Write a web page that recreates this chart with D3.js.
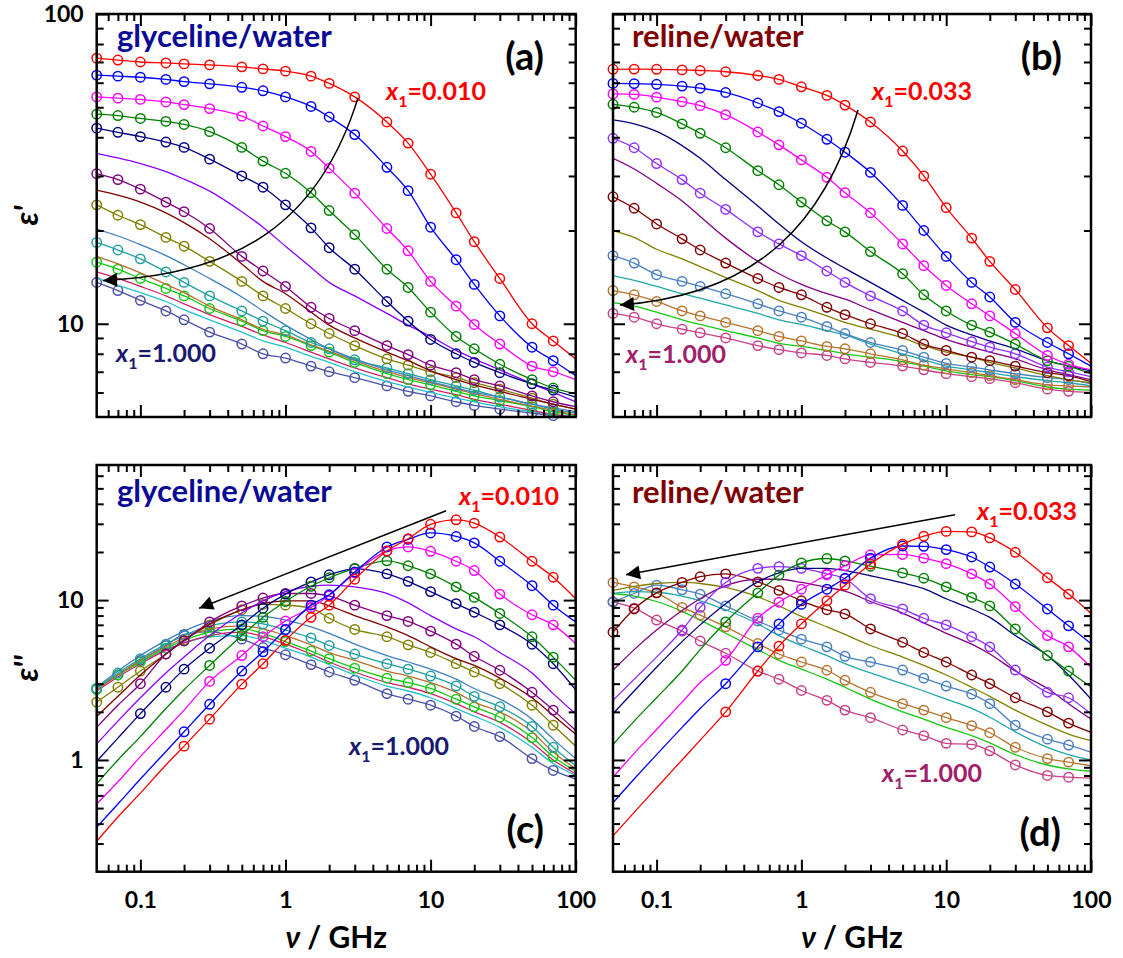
<!DOCTYPE html>
<html>
<head>
<meta charset="utf-8">
<script src="https://cdn.jsdelivr.net/npm/d3@7"></script>
<style>
  body { margin: 0; background: #fff; }
  text { font-family: Lato, "Open Sans", sans-serif; font-weight: bold; }
</style>
</head>
<body>
<script>
const W = 1123, H = 958;

// frequency grid (GHz) shared by every series
const freqs = [0.05, 0.07, 0.1, 0.15, 0.2, 0.3, 0.5, 0.7, 1, 1.5, 2, 3, 5, 7, 10, 15, 20, 30, 50, 70, 100];

const xTicks = [0.1, 1, 10, 100];
const xTickLabels = ['0.1', '1', '10', '100'];
const epsRealTicks = [10, 100];
const epsRealTickLabels = ['10', '100'];
const epsImagTicks = [1, 10];
const epsImagTickLabels = ['1', '10'];

// glyceline/water, x1 = 0.010 ... 1.000
const glyColors = ['#ff0000', '#0000ff', '#ff00ff', '#008000', '#000080', '#8b00ff', '#800080', '#800000',
                   '#808000', '#3f7fbf', '#20a0a0', '#b86e2e', '#14c814', '#d0206a', '#22c0d0', '#4a52a8'];
const glyMarked = [true, true, true, true, true, false, true, false, true, false, true, false, true, false, false, true];

const glyEps1 = [
  [72, 71, 70, 69.5, 69, 68.5, 67.5, 66.5, 65.4, 63, 59.7, 54, 44.8, 38.3, 30.4, 22.8, 18.4, 14.0, 10.0, 8.8, 7.7],
  [63.5, 63, 62.5, 61.5, 60.5, 59.5, 58, 56.5, 54, 50.3, 46.5, 40.8, 32, 26.9, 20.5, 16.1, 13.4, 10.6, 8.4, 7.6, 6.8],
  [54, 53.5, 53, 52, 51, 49.5, 46.8, 43.5, 40.2, 36, 31.8, 26.4, 20.3, 17.2, 13.7, 11.4, 9.95, 8.6, 7.3, 7.0, 6.6],
  [47.5, 47, 46, 45, 44, 41.7, 37.1, 33.5, 30.6, 26.5, 23.2, 19.4, 15.0, 13.1, 10.9, 9.1, 8.3, 7.4, 6.6, 6.2, 5.95],
  [42.8, 41.5, 40.2, 38.6, 37.1, 34.0, 30.0, 27.6, 24.2, 20.4, 17.6, 15.0, 11.8, 10.2, 8.9, 8.0, 7.5, 6.95, 6.4, 6.1, 5.8],
  [35.5, 34.3, 32.9, 31, 29.3, 26.8, 23, 20.5, 17.8, 15.2, 13.6, 12.3, 10.8, 9.9, 9.1, 8.2, 7.7, 7.1, 6.4, 6.0, 5.6],
  [30.5, 29.2, 27.2, 24.7, 23.0, 20.3, 16.5, 14.8, 13.2, 11.3, 10.4, 9.5, 8.5, 7.95, 7.35, 6.95, 6.6, 6.3, 5.85, 5.6, 5.4],
  [27, 26, 24.7, 22.8, 21.2, 18.8, 15.6, 13.7, 12.5, 10.9, 9.9, 9.0, 8.1, 7.6, 7.05, 6.6, 6.35, 6.05, 5.7, 5.5, 5.3],
  [24.2, 22.4, 20.9, 19.0, 17.8, 15.9, 13.7, 12.3, 11.2, 10.0, 9.3, 8.5, 7.7, 7.35, 7.0, 6.7, 6.45, 6.15, 5.75, 5.5, 5.3],
  [20.2, 19.2, 18.0, 16.6, 15.5, 14.0, 12.2, 11.0, 9.9, 8.9, 8.3, 7.7, 7.1, 6.8, 6.5, 6.2, 6.0, 5.8, 5.5, 5.35, 5.2],
  [18.3, 17.3, 16.2, 14.7, 13.6, 12.3, 11.0, 10.2, 9.5, 8.7, 8.3, 7.65, 7.2, 6.9, 6.6, 6.3, 6.1, 5.8, 5.5, 5.3, 5.15],
  [16.5, 15.6, 14.6, 13.4, 12.6, 11.4, 10.3, 9.6, 9.2, 8.55, 8.15, 7.6, 7.0, 6.7, 6.45, 6.15, 5.95, 5.7, 5.42, 5.25, 5.08],
  [15.8, 15.0, 14.0, 13.0, 12.3, 11.2, 10.2, 9.5, 9.1, 8.5, 8.1, 7.5, 6.9, 6.6, 6.35, 6.05, 5.85, 5.65, 5.4, 5.2, 5.05],
  [14.7, 14.0, 13.2, 12.3, 11.6, 10.7, 9.8, 9.2, 8.7, 8.1, 7.7, 7.2, 6.7, 6.4, 6.15, 5.9, 5.7, 5.5, 5.25, 5.1, 5.0],
  [14.0, 13.3, 12.6, 11.8, 11.1, 10.3, 9.4, 8.8, 8.4, 7.85, 7.5, 7.0, 6.5, 6.25, 6.0, 5.75, 5.6, 5.4, 5.2, 5.1, 5.0],
  [13.6, 12.8, 11.9, 11.0, 10.3, 9.4, 8.6, 8.0, 7.75, 7.3, 7.0, 6.7, 6.3, 6.05, 5.85, 5.6, 5.45, 5.3, 5.15, 5.05, 5.0]
];

const glyEps2 = [
  [0.31, 0.44, 0.62, 0.93, 1.22, 1.8, 2.98, 4.0, 5.6, 7.8, 9.3, 13.5, 20.3, 24.2, 29.8, 31.8, 30.3, 24.8, 17.5, 13.9, 10.2],
  [0.38, 0.53, 0.76, 1.13, 1.5, 2.23, 3.6, 4.75, 6.55, 9.3, 10.8, 15.0, 21.5, 24.0, 26.3, 25.0, 22.8, 17.5, 12.3, 9.3, 7.3],
  [0.53, 0.73, 1.05, 1.55, 2.05, 3.1, 4.5, 5.9, 7.4, 9.0, 10.7, 14.8, 20.3, 21.5, 20.2, 17.5, 15.3, 10.9, 8.1, 7.0, 5.35],
  [0.71, 1.0, 1.4, 2.1, 2.75, 3.9, 6.0, 7.8, 9.8, 12.2, 13.8, 15.8, 17.6, 16.4, 14.6, 12.1, 10.4, 8.25, 5.9, 4.4, 3.15],
  [0.98, 1.37, 1.95, 2.85, 3.7, 5.0, 7.0, 8.9, 10.9, 13.0, 14.4, 15.7, 14.6, 13.1, 11.3, 9.5, 8.4, 7.0, 5.3, 4.0, 2.75],
  [1.26, 1.75, 2.45, 3.5, 4.4, 6.0, 8.3, 9.9, 11.3, 12.2, 12.4, 12.1, 11.0, 9.6, 8.0, 6.6, 5.9, 4.7, 3.5, 2.6, 1.94],
  [1.6, 2.2, 3.0, 4.6, 5.55, 7.3, 9.2, 10.3, 11.0, 11.0, 10.6, 9.3, 8.0, 7.35, 6.4, 5.3, 4.45, 3.64, 2.65, 2.05, 1.53],
  [1.87, 2.5, 3.4, 4.6, 5.6, 7.1, 8.7, 9.5, 9.9, 9.9, 9.2, 8.0, 6.8, 6.0, 5.1, 4.3, 3.9, 3.25, 2.45, 1.9, 1.45],
  [2.3, 2.85, 3.6, 4.6, 5.6, 7.0, 8.7, 9.4, 9.3, 8.9, 7.7, 6.55, 5.9, 5.25, 4.7, 4.0, 3.55, 3.0, 2.2, 1.65, 1.22],
  [2.85, 3.6, 4.5, 5.6, 6.4, 7.4, 8.0, 7.9, 7.5, 6.8, 6.2, 5.3, 4.5, 4.1, 3.7, 3.2, 2.8, 2.4, 1.8, 1.35, 1.02],
  [2.8, 3.5, 4.3, 5.3, 6.0, 6.9, 7.3, 7.1, 6.5, 5.8, 5.2, 4.6, 4.0, 3.7, 3.35, 2.9, 2.5, 2.15, 1.62, 1.2, 0.92],
  [2.75, 3.4, 4.2, 5.1, 5.8, 6.6, 6.9, 6.6, 6.0, 5.25, 4.7, 4.2, 3.6, 3.35, 3.05, 2.65, 2.3, 2.0, 1.5, 1.12, 0.88],
  [2.75, 3.4, 4.1, 5.0, 5.6, 6.3, 6.6, 6.2, 5.5, 4.8, 4.3, 3.75, 3.25, 3.05, 2.8, 2.4, 2.15, 1.85, 1.38, 1.05, 0.85],
  [2.7, 3.3, 4.0, 4.85, 5.4, 6.0, 6.3, 5.9, 5.3, 4.6, 4.1, 3.55, 3.05, 2.85, 2.6, 2.25, 2.0, 1.72, 1.28, 1.0, 0.82],
  [2.8, 3.4, 4.1, 4.9, 5.4, 5.9, 6.0, 5.6, 5.0, 4.4, 3.95, 3.4, 2.9, 2.7, 2.45, 2.1, 1.88, 1.6, 1.2, 0.95, 0.8],
  [2.8, 3.4, 4.2, 5.2, 6.1, 6.35, 5.7, 5.05, 4.55, 3.95, 3.55, 3.15, 2.6, 2.4, 2.2, 1.88, 1.62, 1.4, 1.02, 0.86, 0.76]
];
// first measured point (index in freqs) of each loss series
const glyEps2MarkFrom = [4, 4, 5, 5, 2, 0, 2, 0, 0, 0, 0, 0, 0, 0, 0, 0];

// reline/water, x1 = 0.033 ... 1.000
const relColors = ['#ff0000', '#0000ff', '#ff00ff', '#008000', '#000080', '#9030ff', '#800080',
                   '#800000', '#808000', '#4a80c0', '#20a8a8', '#b8732e', '#14c814', '#c8408a'];
const relMarked = [true, true, true, true, false, true, false, true, false, true, false, true, false, true];

const relEps1 = [
  [66.3, 66.4, 66.3, 66.0, 65.7, 65.1, 63.3, 61.5, 58.2, 54.6, 50.8, 44.8, 36.1, 30.0, 23.7, 18.9, 15.9, 12.9, 9.7, 8.5, 7.45],
  [59.7, 59.6, 59.3, 58.5, 57.6, 55.8, 51.6, 48.4, 44.4, 39.4, 35.8, 30.8, 24.1, 20.0, 16.5, 13.6, 12.2, 10.1, 8.7, 8.0, 7.3],
  [55.2, 55.0, 53.9, 52.1, 50.6, 47.3, 41.6, 37.8, 33.8, 29.7, 26.5, 22.8, 18.1, 15.4, 13.3, 11.6, 10.6, 9.3, 7.9, 7.4, 7.1],
  [51.1, 50.0, 48.1, 44.2, 41.2, 37.0, 31.2, 28.1, 24.7, 21.5, 19.8, 17.1, 14.5, 12.4, 11.0, 9.9, 9.4, 8.6, 7.6, 7.3, 6.9],
  [45.5, 44.2, 41.8, 37.6, 34.2, 29.2, 24.0, 21.0, 18.4, 16.3, 15.1, 13.6, 11.9, 10.9, 9.9, 9.2, 8.8, 8.3, 7.6, 7.3, 7.05],
  [39.7, 37.0, 32.9, 29.2, 26.4, 23.4, 19.8, 18.1, 16.6, 14.8, 13.6, 12.3, 11.0, 9.9, 9.35, 8.75, 8.4, 8.0, 7.25, 7.0, 6.75],
  [34.2, 31.6, 28.4, 24.9, 22.2, 18.9, 15.9, 14.5, 13.4, 12.5, 12.0, 11.1, 10.1, 9.5, 8.9, 8.4, 8.1, 7.7, 7.1, 6.85, 6.6],
  [25.7, 23.6, 21.0, 18.8, 17.3, 15.7, 14.0, 13.1, 12.4, 11.3, 10.7, 10.0, 9.3, 8.6, 8.2, 7.8, 7.6, 7.3, 6.95, 6.8, 6.5],
  [20.0, 19.0, 17.4, 16.2, 15.3, 14.1, 12.8, 11.9, 11.3, 10.6, 10.1, 9.6, 9.0, 8.5, 8.1, 7.8, 7.5, 7.2, 6.8, 6.6, 6.45],
  [16.6, 15.7, 14.4, 13.7, 13.2, 12.5, 11.6, 11.0, 10.5, 9.8, 9.3, 8.7, 8.2, 7.8, 7.45, 7.25, 7.1, 6.9, 6.7, 6.6, 6.4],
  [14.3, 13.8, 13.2, 12.5, 12.1, 11.5, 10.8, 10.3, 9.95, 9.5, 9.2, 8.6, 8.0, 7.65, 7.3, 7.1, 6.95, 6.75, 6.55, 6.45, 6.3],
  [12.8, 12.4, 11.8, 11.0, 10.6, 10.1, 9.5, 9.1, 8.8, 8.45, 8.3, 8.0, 7.65, 7.35, 7.15, 6.95, 6.8, 6.6, 6.35, 6.3, 6.25],
  [11.7, 11.4, 10.9, 10.3, 9.95, 9.5, 9.0, 8.65, 8.45, 8.2, 8.0, 7.8, 7.55, 7.3, 7.05, 6.85, 6.75, 6.55, 6.25, 6.15, 6.1],
  [10.8, 10.5, 10.0, 9.6, 9.35, 9.0, 8.5, 8.25, 8.05, 7.9, 7.7, 7.5, 7.3, 7.1, 6.9, 6.75, 6.65, 6.45, 6.15, 6.05, 6.0]
];

const relEps2 = [
  [0.335, 0.47, 0.67, 1.0, 1.33, 2.0, 3.6, 5.15, 7.1, 9.9, 12.4, 16.8, 22.4, 25.1, 26.9, 26.7, 24.5, 19.9, 13.8, 10.9, 8.25],
  [0.54, 0.76, 1.08, 1.6, 2.1, 3.0, 5.1, 7.1, 9.4, 11.7, 13.7, 18.3, 21.8, 21.7, 20.7, 18.6, 16.1, 12.6, 8.8, 6.9, 5.35],
  [0.78, 1.1, 1.55, 2.3, 3.05, 4.2, 7.7, 9.7, 11.7, 14.4, 16.4, 19.2, 19.3, 18.3, 16.9, 14.6, 12.6, 9.1, 6.0, 5.1, 3.8],
  [1.25, 1.75, 2.45, 3.6, 4.9, 7.3, 11.1, 14.3, 17.1, 18.2, 17.6, 16.3, 14.8, 13.7, 12.1, 10.4, 9.2, 6.6, 4.5, 3.6, 2.86],
  [1.95, 2.7, 3.8, 5.5, 7.0, 9.5, 13.0, 14.8, 15.8, 15.8, 15.3, 14.2, 12.8, 11.8, 10.2, 8.8, 7.8, 6.0, 4.5, 3.4, 2.4],
  [2.36, 3.2, 4.4, 6.5, 9.0, 12.9, 15.8, 16.2, 15.8, 14.6, 13.6, 10.2, 8.8, 7.7, 7.0, 5.9, 5.1, 3.65, 2.65, 2.45, 1.94],
  [3.64, 4.9, 6.5, 8.6, 10.2, 12.3, 13.5, 13.5, 12.9, 12.0, 11.4, 9.8, 8.3, 7.2, 6.2, 5.3, 4.6, 3.6, 2.8, 2.25, 1.8],
  [6.3, 8.8, 11.1, 12.9, 14.0, 14.6, 13.0, 11.5, 9.9, 8.7, 8.2, 6.6, 5.45, 4.7, 4.1, 3.4, 3.0, 2.45, 2.0, 1.7, 1.49],
  [11.5, 12.2, 12.7, 12.9, 12.7, 12.0, 10.5, 9.2, 7.9, 6.8, 6.1, 5.2, 4.4, 3.9, 3.4, 2.85, 2.5, 2.05, 1.65, 1.45, 1.32],
  [9.75, 11.0, 12.4, 11.6, 10.9, 9.2, 7.4, 6.5, 5.7, 5.1, 4.45, 4.1, 3.65, 3.25, 2.9, 2.58, 2.25, 1.65, 1.35, 1.24, 1.12],
  [11.0, 11.3, 11.2, 10.6, 9.9, 8.7, 7.1, 6.0, 5.2, 4.5, 4.0, 3.5, 3.0, 2.7, 2.4, 2.1, 1.85, 1.5, 1.2, 1.08, 1.0],
  [12.9, 12.1, 11.1, 9.0, 8.05, 6.8, 5.35, 4.6, 4.1, 3.64, 3.15, 2.65, 2.25, 2.05, 1.84, 1.64, 1.48, 1.2, 1.02, 0.97, 0.92],
  [11.0, 10.6, 9.8, 8.5, 7.5, 6.2, 4.9, 4.2, 3.7, 3.2, 2.85, 2.4, 2.0, 1.8, 1.6, 1.42, 1.28, 1.08, 0.93, 0.88, 0.85],
  [9.75, 8.9, 7.5, 6.4, 5.55, 4.65, 3.6, 3.2, 2.72, 2.36, 2.05, 1.84, 1.54, 1.42, 1.27, 1.25, 1.14, 0.93, 0.8, 0.78, 0.77]
];
const relEps2MarkFrom = [5, 5, 5, 5, 0, 3, 0, 0, 0, 0, 0, 0, 0, 0];

// panel layout
const panels = [
  { left: 96.7, right: 575.7, top: 14, bottom: 417, yDomain: [5, 100], yTicks: epsRealTicks, yTickLabels: epsRealTickLabels,
    showX: false, showY: true, values: glyEps1, colors: glyColors, marked: glyMarked, markFrom: null,
    title: 'glyceline/water', titleColor: '#0a0a96', titlePos: [117, 47], tag: '(a)', tagPos: [544, 70],
    hi: {text: '0.010', color: '#ff0000', pos: [386, 100]}, lo: {text: '1.000', color: '#191970', pos: [116, 362]},
    arrow: [[3.16, 53.6], [1.73, 21.6], [0.488, 14.4], [0.0553, 13.8]] },
  { left: 613, right: 1091, top: 14, bottom: 417, yDomain: [5, 100], yTicks: epsRealTicks, yTickLabels: epsRealTickLabels,
    showX: false, showY: false, values: relEps1, colors: relColors, marked: relMarked, markFrom: null,
    title: 'reline/water', titleColor: '#800000', titlePos: [632, 47], tag: '(b)', tagPos: [1062, 70],
    hi: {text: '0.033', color: '#ff0000', pos: [872, 100]}, lo: {text: '1.000', color: '#a0206a', pos: [626, 363]},
    arrow: [[2.46, 49], [1.46, 21.6], [0.517, 12.4], [0.0558, 11.5]] },
  { left: 96.7, right: 575.7, top: 465, bottom: 871.7, yDomain: [0.2, 70], yTicks: epsImagTicks, yTickLabels: epsImagTickLabels,
    showX: true, showY: true, values: glyEps2, colors: glyColors, marked: glyMarked, markFrom: glyEps2MarkFrom,
    title: 'glyceline/water', titleColor: '#0a0a96', titlePos: [117, 502], tag: '(c)', tagPos: [544, 843],
    hi: {text: '0.010', color: '#ff0000', pos: [459, 505]}, lo: {text: '1.000', color: '#191970', pos: [349, 755]},
    arrow: [[12.8, 36.2], [0.254, 8.9]] },
  { left: 613, right: 1091, top: 465, bottom: 871.7, yDomain: [0.2, 70], yTicks: epsImagTicks, yTickLabels: epsImagTickLabels,
    showX: true, showY: false, values: relEps2, colors: relColors, marked: relMarked, markFrom: relEps2MarkFrom,
    title: 'reline/water', titleColor: '#800000', titlePos: [632, 503], tag: '(d)', tagPos: [1061, 846],
    hi: {text: '0.033', color: '#ff0000', pos: [977, 520]}, lo: {text: '1.000', color: '#a0206a', pos: [882, 782]},
    arrow: [[11.5, 34.2], [0.0615, 14.4]] }
];

function minorTicks(lo, hi) {
  const out = [];
  for (const dec of [0.01, 0.1, 1, 10]) {
    for (let k = 2; k <= 9; k++) {
      const v = +(k * dec).toPrecision(3);
      if (v > lo && v < hi) out.push(v);
    }
  }
  return out;
}

const svg = d3.select('body').append('svg').attr('width', W).attr('height', H);

svg.append('defs').append('marker')
  .attr('id', 'head').attr('viewBox', '0 0 10 10').attr('refX', 10).attr('refY', 5)
  .attr('markerUnits', 'userSpaceOnUse').attr('markerWidth', 26).attr('markerHeight', 14)
  .attr('orient', 'auto')
  .append('path').attr('d', 'M0,0 L10,5 L0,10 Z').attr('fill', '#000');

function x1Label(g, spec) {
  const t = g.append('text').attr('x', spec.pos[0]).attr('y', spec.pos[1])
    .attr('fill', spec.color).attr('font-size', 25);
  t.append('tspan').attr('font-style', 'italic').text('x');
  t.append('tspan').attr('font-size', 16).attr('dy', 7).text('1');
  t.append('tspan').attr('dy', -7).text('=' + spec.text);
}

panels.forEach((p, pi) => {
  const x = d3.scaleLog().domain([0.05, 100]).range([p.left, p.right]);
  const y = d3.scaleLog().domain(p.yDomain).range([p.bottom, p.top]);
  const g = svg.append('g');

  const clipId = 'clip' + pi;
  svg.select('defs').append('clipPath').attr('id', clipId).append('rect')
    .attr('x', p.left).attr('y', p.top).attr('width', p.right - p.left).attr('height', p.bottom - p.top);

  const line = d3.line().x(d => x(d[0])).y(d => y(d[1])).curve(d3.curveMonotoneX);

  for (let s = p.values.length - 1; s >= 0; s--) {
    const pts = freqs.map((f, i) => [f, p.values[s][i]]);
    g.append('path').datum(pts)
      .attr('clip-path', `url(#${clipId})`)
      .attr('fill', 'none').attr('stroke', p.colors[s]).attr('stroke-width', 1.3)
      .attr('d', line);
    if (p.marked[s]) {
      const from = p.markFrom ? p.markFrom[s] : 0;
      g.append('g').selectAll('circle')
        .data(pts.slice(from, pts.length - 1))
        .join('circle')
        .attr('cx', d => x(d[0])).attr('cy', d => y(d[1])).attr('r', 4.7)
        .attr('fill', 'none').attr('stroke', p.colors[s]).attr('stroke-width', 1.5);
    }
  }

  // arrow showing the trend with x1
  const a = p.arrow.map(d => [x(d[0]), y(d[1])]);
  const pathD = a.length === 4
    ? `M${a[0]} C${a[1]} ${a[2]} ${a[3]}`
    : `M${a[0]} L${a[1]}`;
  g.append('path').attr('d', pathD).attr('fill', 'none').attr('stroke', '#000')
    .attr('stroke-width', 1.5).attr('marker-end', 'url(#head)');

  // axes: ticks inside on all four sides
  const xMinor = minorTicks(0.05, 100);
  const yMinor = minorTicks(p.yDomain[0], p.yDomain[1]);
  const ax = g.append('g');
  ax.append('g').attr('transform', `translate(0,${p.bottom})`)
    .call(d3.axisBottom(x).tickValues(xTicks).tickSize(-12).tickPadding(20)
      .tickFormat((d, i) => p.showX ? xTickLabels[i] : ''));
  ax.append('g').attr('transform', `translate(0,${p.bottom})`)
    .call(d3.axisBottom(x).tickValues(xMinor).tickSize(-7).tickFormat(''));
  ax.append('g').attr('transform', `translate(0,${p.top})`)
    .call(d3.axisTop(x).tickValues(xTicks).tickSize(-12).tickFormat(''));
  ax.append('g').attr('transform', `translate(0,${p.top})`)
    .call(d3.axisTop(x).tickValues(xMinor).tickSize(-7).tickFormat(''));
  ax.append('g').attr('transform', `translate(${p.left},0)`)
    .call(d3.axisLeft(y).tickValues(p.yTicks).tickSize(-12).tickPadding(13)
      .tickFormat((d, i) => p.showY ? p.yTickLabels[i] : ''));
  ax.append('g').attr('transform', `translate(${p.left},0)`)
    .call(d3.axisLeft(y).tickValues(yMinor).tickSize(-7).tickFormat(''));
  ax.append('g').attr('transform', `translate(${p.right},0)`)
    .call(d3.axisRight(y).tickValues(p.yTicks).tickSize(-12).tickFormat(''));
  ax.append('g').attr('transform', `translate(${p.right},0)`)
    .call(d3.axisRight(y).tickValues(yMinor).tickSize(-7).tickFormat(''));
  ax.selectAll('.domain').remove();
  ax.selectAll('.tick line').attr('stroke', '#000').attr('stroke-width', 2);
  ax.selectAll('.tick text').attr('font-size', 23).attr('fill', '#000')
    .style('font-family', 'Lato, "Open Sans", sans-serif').style('font-weight', 'bold');

  g.append('rect').attr('x', p.left).attr('y', p.top)
    .attr('width', p.right - p.left).attr('height', p.bottom - p.top)
    .attr('fill', 'none').attr('stroke', '#000').attr('stroke-width', 2.5);

  // labels
  g.append('text').attr('x', p.titlePos[0]).attr('y', p.titlePos[1])
    .attr('fill', p.titleColor).attr('font-size', 31).text(p.title);
  g.append('text').attr('x', p.tagPos[0]).attr('y', p.tagPos[1])
    .attr('text-anchor', 'end').attr('font-size', 38).attr('fill', '#000').text(p.tag);
  x1Label(g, p.hi);
  x1Label(g, p.lo);

  if (p.showX) {
    const t = g.append('text').attr('x', (p.left + p.right) / 2).attr('y', 948)
      .attr('text-anchor', 'middle').attr('font-size', 30);
    t.append('tspan').attr('font-style', 'italic').text('ν');
    t.append('tspan').text(' / GHz');
  }
  if (p.showY) {
    const cy = (p.top + p.bottom) / 2;
    g.append('text').attr('transform', `translate(38,${cy}) rotate(-90)`)
      .attr('text-anchor', 'middle').attr('font-size', 32).attr('font-style', 'italic')
      .text(pi === 0 ? "ε'" : "ε''");
  }
});
</script>
</body>
</html>
